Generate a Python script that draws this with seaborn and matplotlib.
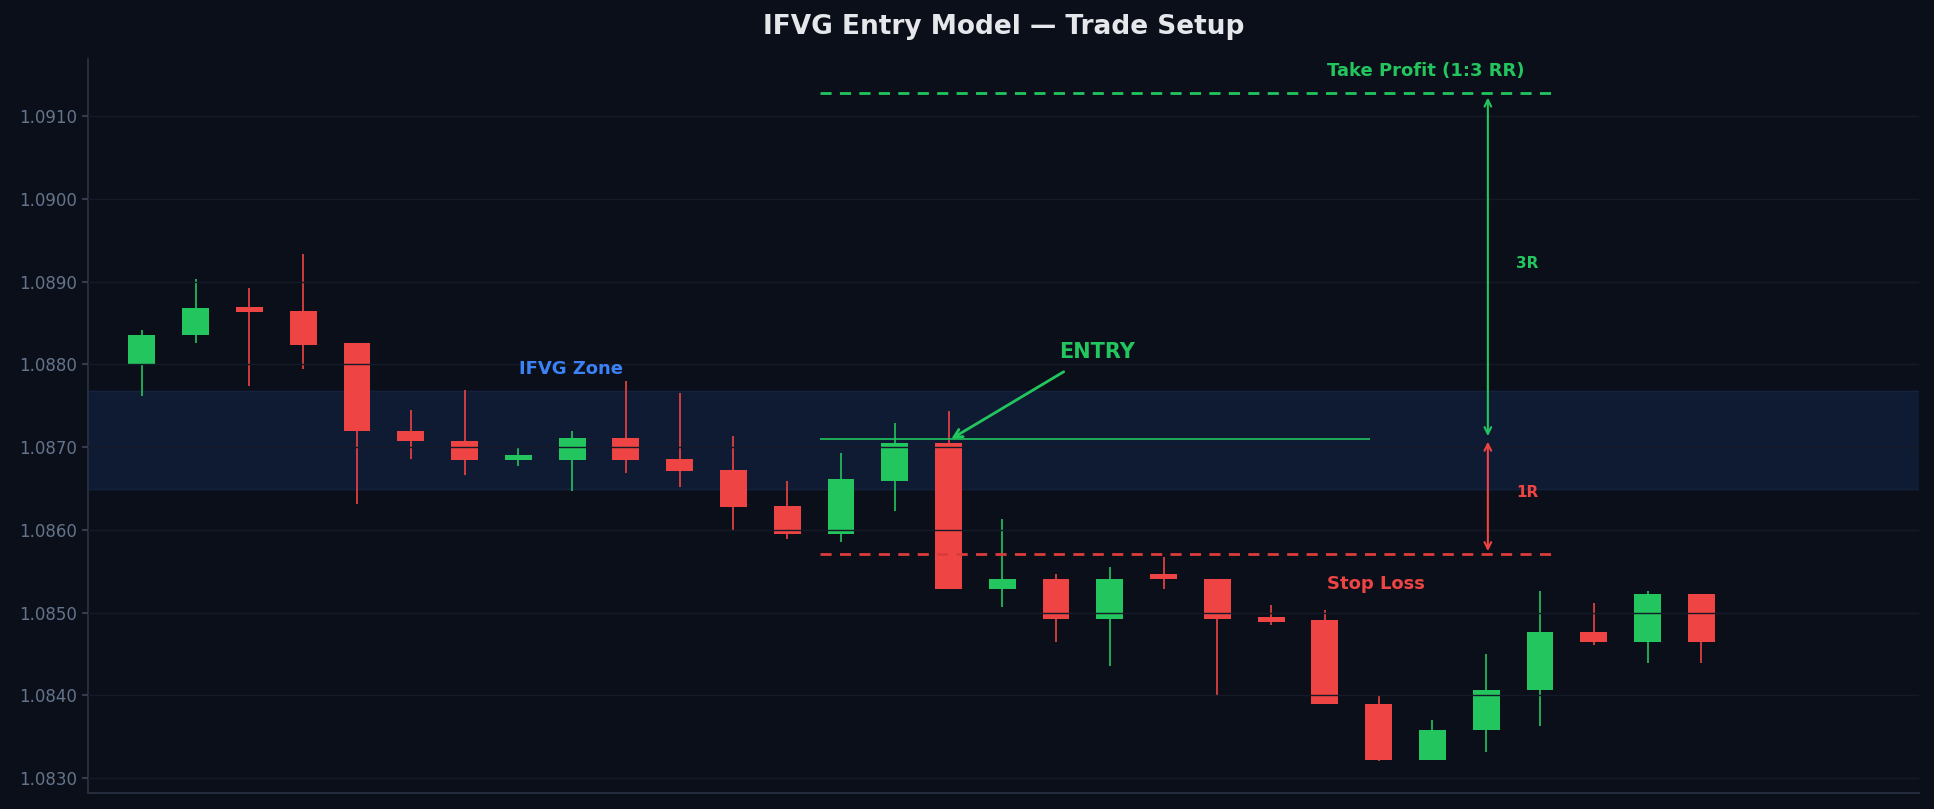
import matplotlib
matplotlib.use("Agg")
import matplotlib.pyplot as plt
import seaborn as sns
import numpy as np
import pandas as pd

opens  = [1.08801,1.08836,1.08869,1.08865,1.08826,1.08720,1.08708,1.08684,1.08684,1.08711,
          1.08686,1.08672,1.08629,1.08595,1.08659,1.08705,1.08529,1.08541,1.08492,1.08547,
          1.08541,1.08495,1.08491,1.08389,1.08322,1.08358,1.08407,1.08476,1.08464,1.08522]
closes = [1.08836,1.08868,1.08863,1.08824,1.08719,1.08707,1.08684,1.08690,1.08711,1.08684,
          1.08671,1.08628,1.08595,1.08661,1.08705,1.08528,1.08541,1.08492,1.08541,1.08541,
          1.08492,1.08489,1.08389,1.08322,1.08358,1.08407,1.08476,1.08464,1.08522,1.08464]
highs  = [1.08842,1.08903,1.08893,1.08933,1.08826,1.08745,1.08769,1.08699,1.08719,1.08780,
          1.08765,1.08714,1.08659,1.08693,1.08729,1.08744,1.08613,1.08547,1.08555,1.08567,
          1.08541,1.08509,1.08503,1.08400,1.08370,1.08450,1.08526,1.08512,1.08526,1.08522]
lows   = [1.08762,1.08826,1.08774,1.08795,1.08631,1.08686,1.08666,1.08677,1.08647,1.08669,
          1.08652,1.08600,1.08589,1.08586,1.08623,1.08528,1.08507,1.08464,1.08436,1.08528,
          1.08400,1.08485,1.08389,1.08321,1.08322,1.08331,1.08363,1.08461,1.08439,1.08439]
zone_low, zone_high = 1.08650, 1.08768
entry, take_profit, stop_loss = 1.0871, 1.09128, 1.08571

df = pd.DataFrame(dict(o=opens, c=closes, h=highs, l=lows))
df["i"] = np.arange(len(df))
BG = "#0b0f19"; GREEN = "#22c55e"; RED = "#ef4444"; BLUE = "#3b82f6"
sns.set_theme(style="dark", rc={"axes.facecolor": BG, "figure.facecolor": BG,
                                 "axes.edgecolor": "#2a3142", "grid.color": "#141a28"})
plt.rcParams['font.family'] = ['DejaVu Sans']

fig = plt.figure(figsize=(19.34, 8.09), dpi=100)
ax = fig.add_axes([0.0453, 0.0198, 0.9470, 0.907])
ax.axhspan(zone_low, zone_high, color="#0f1a33", zorder=0)
ax.axhline(zone_low, color="#16223d", lw=1, zorder=0)
ax.axhline(zone_high, color="#16223d", lw=1, zorder=0)

colors = [GREEN if c >= o else RED for o, c in zip(df.o, df.c)]
ax.vlines(df.i, df.l, df.h, colors=colors, lw=1.2, zorder=1.5)
bottoms = np.minimum(df.o, df.c)
heights = np.maximum(np.abs(df.c - df.o), 0.00005)
ax.bar(df.i, heights, bottom=bottoms, width=0.5, color=colors, edgecolor="none",
       linewidth=0, zorder=2)

ax.set_axisbelow(False)
ax.yaxis.grid(True, color="#141a28", lw=1.0, zorder=2.5)
ax.xaxis.grid(False)

ax.hlines(entry, 12.61, 22.84, color=GREEN, lw=1.2, zorder=5)
ax.hlines(take_profit, 12.61, 26.2, color=GREEN, lw=2, ls=(0, (4, 3)), zorder=5)
ax.hlines(stop_loss, 12.61, 26.2, color="#dc3b3b", lw=2, ls=(0, (4, 3)), zorder=5)
ax.annotate("", xy=(25.03, take_profit - 0.00002), xytext=(25.03, entry),
            arrowprops=dict(arrowstyle="<->", color=GREEN, lw=1.5))
ax.annotate("", xy=(25.03, entry), xytext=(25.03, stop_loss),
            arrowprops=dict(arrowstyle="<->", color=RED, lw=1.5))
ax.text(25.55, 1.08922, "3R", color=GREEN, fontsize=11, fontweight="bold", va="center")
ax.text(25.55, 1.08645, "1R", color=RED, fontsize=11, fontweight="bold", va="center")
ax.text(22.04, 1.09155, "Take Profit (1:3 RR)", color=GREEN, fontsize=13, fontweight="bold", va="center")
ax.text(22.04, 1.08535, "Stop Loss", color=RED, fontsize=13, fontweight="bold", va="center")
ax.text(7.02, 1.08795, "IFVG Zone", color=BLUE, fontsize=13, fontweight="bold", va="center")
ax.annotate("ENTRY", xy=(15.05, entry), xytext=(17.05, 1.08815), color=GREEN,
            fontsize=15, fontweight="bold", va="center",
            arrowprops=dict(arrowstyle="->", color=GREEN, lw=2, shrinkA=9, shrinkB=0))

ax.set_xlim(-1.01, 33.05)
ax.set_ylim(1.08282, 1.09169)
ax.set_xticks([])
ax.set_yticks(np.arange(1.0830, 1.09101, 0.001))
ax.yaxis.set_major_formatter(matplotlib.ticker.FormatStrFormatter("%.4f"))
ax.tick_params(axis="y", colors="#64748b", labelsize=12, left=True, length=4, color="#3a4256")
for s in ["top", "right"]:
    ax.spines[s].set_visible(False)
ax.set_title("IFVG Entry Model — Trade Setup", color="#e5e7eb", fontsize=19,
             fontweight="bold", pad=18)
fig.savefig("out.png", dpi=100, facecolor=BG)
